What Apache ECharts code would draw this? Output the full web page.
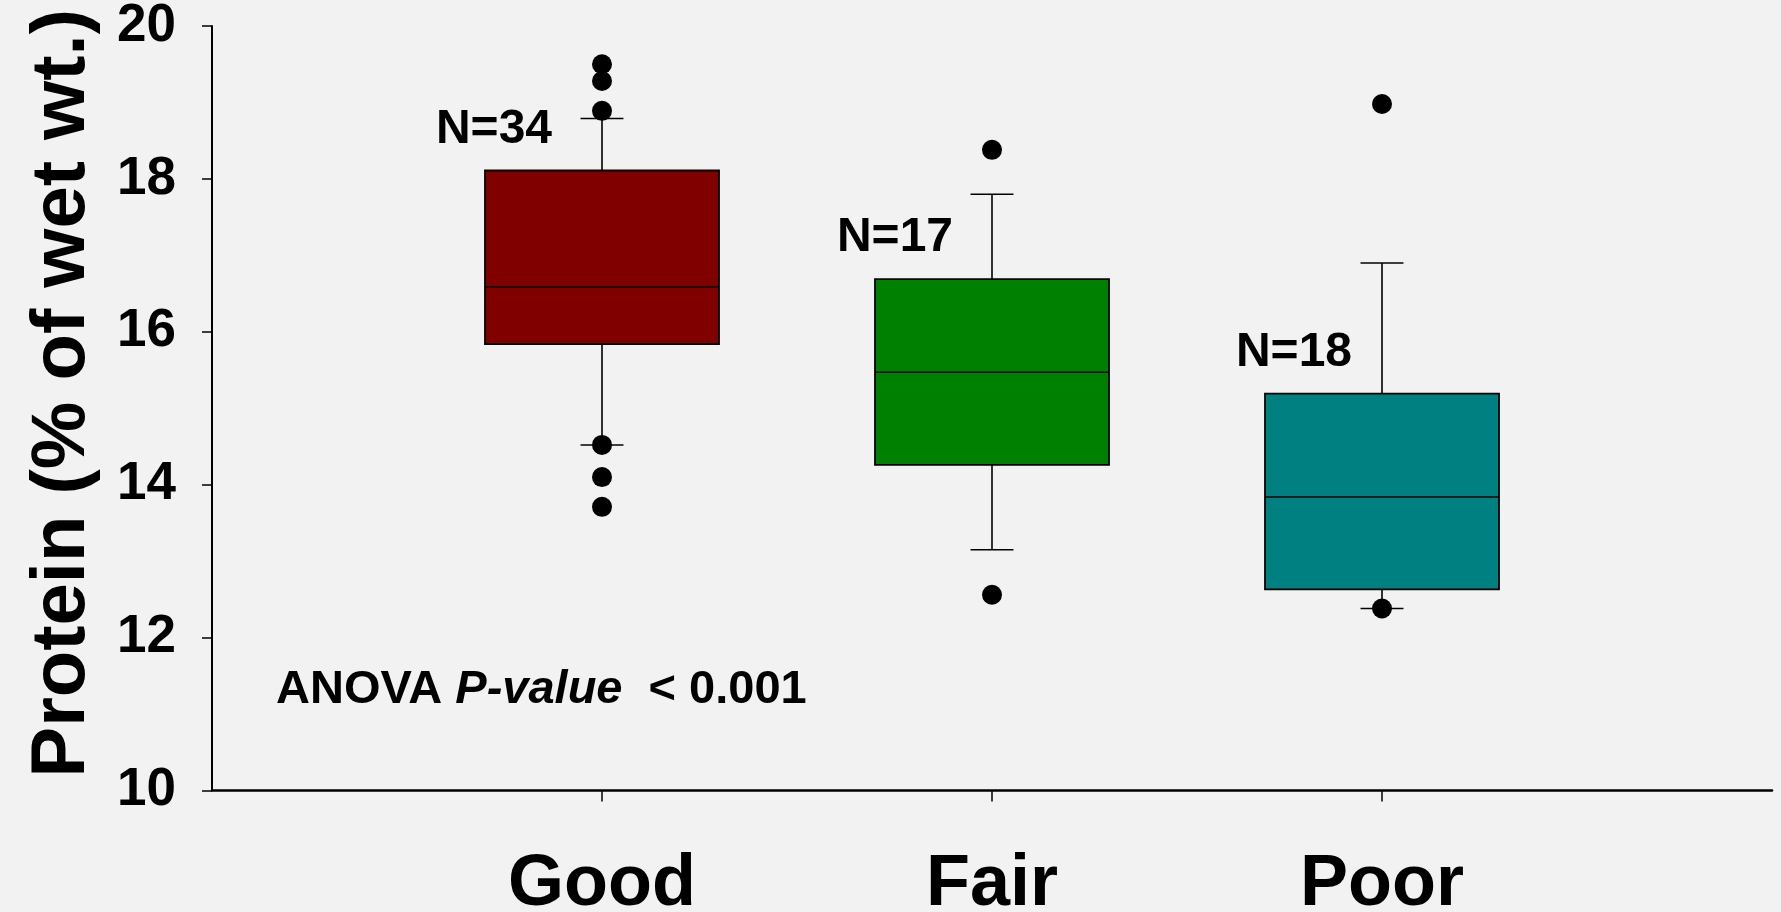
<!DOCTYPE html>
<html>
<head>
<meta charset="utf-8">
<script src="https://cdn.jsdelivr.net/npm/echarts@6/dist/echarts.min.js"></script>
<style>
  html, body { margin: 0; padding: 0; background: #f2f2f2; }
  #chart { width: 1781px; height: 912px; }
</style>
</head>
<body>
<div id="chart"></div>
<script>
// Protein content by condition class
const categories = ['Good', 'Fair', 'Poor'];
const lowerWhisker = [14.52, 13.15, 12.38];
const q1 = [15.84, 14.26, 12.63];
const median = [16.59, 15.47, 13.84];
const q3 = [18.11, 16.69, 15.19];
const upperWhisker = [18.79, 17.80, 16.90];
const outliers = [
  [19.50, 19.28, 18.89, 14.52, 14.10, 13.71],
  [18.38, 12.56],
  [18.98, 12.38]
];
const sampleSizes = [34, 17, 18];
const yMin = 10, yMax = 20, yStep = 2;

// styling
const boxColors = ['#800000', '#008000', '#008080'];
const nLabelShift = [-108, -97, -88];
const FONT = '"Liberation Sans", Arial, sans-serif';

// pad the category axis with empty slots on both ends
const axisCats = [''].concat(categories, ['']);
const showCat = (i) => i > 0 && i <= categories.length;

const boxData = categories.map((c, i) => [i + 1, lowerWhisker[i], q1[i], median[i], q3[i], upperWhisker[i], i]);
const outlierData = [];
outliers.forEach((vals, i) => vals.forEach(v => outlierData.push([i + 1, v])));

function renderBox(params, api) {
  const x = api.value(0);
  const ci = api.value(6);
  const xc = api.coord([x, yMin])[0];
  const band = api.size([1, 0])[0];
  const boxW = band * 0.6;
  const capW = band * 0.11;
  const yLo = api.coord([x, api.value(1)])[1];
  const yQ1 = api.coord([x, api.value(2)])[1];
  const yMed = api.coord([x, api.value(3)])[1];
  const yQ3 = api.coord([x, api.value(4)])[1];
  const yHi = api.coord([x, api.value(5)])[1];
  const lineStyle = { stroke: '#000', lineWidth: 1.6 };
  const line = (x1, y1, x2, y2) => ({ type: 'line', shape: { x1, y1, x2, y2 }, style: lineStyle });
  return {
    type: 'group',
    children: [
      line(xc, yQ3, xc, yHi),
      line(xc - capW / 2, yHi, xc + capW / 2, yHi),
      line(xc, yQ1, xc, yLo),
      line(xc - capW / 2, yLo, xc + capW / 2, yLo),
      {
        type: 'rect',
        shape: { x: xc - boxW / 2, y: yQ3, width: boxW, height: yQ1 - yQ3 },
        style: { fill: boxColors[ci], stroke: '#000', lineWidth: 1.8 }
      },
      line(xc - boxW / 2, yMed, xc + boxW / 2, yMed),
      {
        type: 'text',
        style: {
          text: 'N=' + sampleSizes[ci],
          x: xc + nLabelShift[ci],
          y: yQ3 - 41,
          align: 'center',
          verticalAlign: 'middle',
          font: 'bold 48px ' + FONT,
          fill: '#000'
        }
      }
    ]
  };
}

const chart = echarts.init(document.getElementById('chart'));
chart.setOption({
  backgroundColor: '#f2f2f2',
  animation: false,
  grid: { left: 212, right: 9, top: 26, bottom: 121.5, containLabel: false, outerBoundsMode: 'none' },
  xAxis: {
    type: 'category',
    data: axisCats,
    boundaryGap: false,
    axisLine: { lineStyle: { color: '#000', width: 2.5 } },
    axisTick: { show: true, length: 11, interval: (i) => showCat(i), lineStyle: { color: '#000', width: 1.5 } },
    axisLabel: {
      interval: (i) => showCat(i),
      margin: 59,
      color: '#000',
      fontFamily: FONT,
      fontWeight: 'bold',
      fontSize: 72,
      lineHeight: 72
    },
    splitLine: { show: false }
  },
  yAxis: {
    type: 'value',
    min: yMin,
    max: yMax,
    interval: yStep,
    name: 'Protein (% of wet wt.)',
    nameLocation: 'middle',
    nameGap: 111,
    nameRotate: 90,
    nameTextStyle: { color: '#000', fontFamily: FONT, fontWeight: 'bold', fontSize: 76, padding: [0, 0, 0, 30] },
    axisLine: { show: true, lineStyle: { color: '#000', width: 2 } },
    axisTick: { show: true, length: 10, lineStyle: { color: '#000', width: 1.5 } },
    axisLabel: { margin: 36, color: '#000', fontFamily: FONT, fontWeight: 'bold', fontSize: 53 },
    splitLine: { show: false }
  },
  graphic: [{
    type: 'text',
    left: 276,
    top: 667,
    style: {
      text: '{a|ANOVA }{b|P-value}{a|  < 0.001}',
      rich: {
        a: { font: 'bold 47px ' + FONT, fill: '#000' },
        b: { font: 'italic bold 47px ' + FONT, fill: '#000' }
      }
    }
  }],
  series: [
    {
      type: 'custom',
      renderItem: renderBox,
      data: boxData,
      encode: { x: 0, y: [1, 2, 3, 4, 5] },
      z: 2
    },
    {
      type: 'scatter',
      data: outlierData,
      symbol: 'circle',
      symbolSize: 20,
      itemStyle: { color: '#000', opacity: 1 },
      z: 3
    }
  ]
});
</script>
</body>
</html>
